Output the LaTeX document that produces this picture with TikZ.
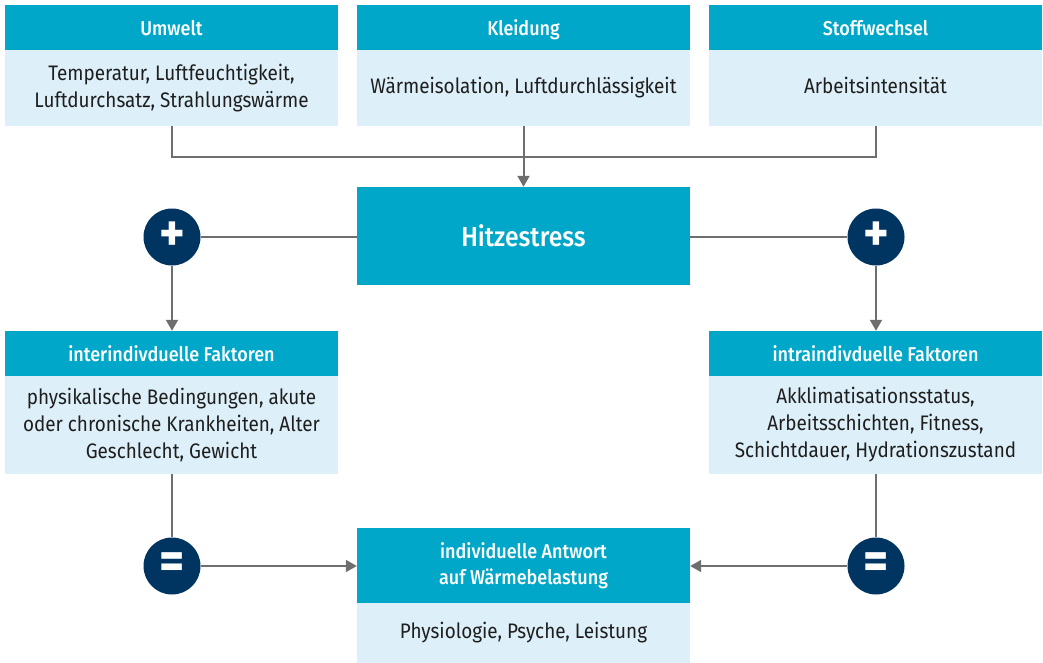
\documentclass[tikz,border=0pt]{standalone}
\usepackage{fontspec}
\setmainfont{Fira Sans}[FakeStretch=0.9]
\newfontfamily\medfont{Fira Sans Medium}[FakeStretch=0.9]
\usetikzlibrary{arrows.meta}
\definecolor{hcol}{HTML}{00A7C8}
\definecolor{bcol}{HTML}{DDF0F9}
\definecolor{ccol}{HTML}{003461}
\definecolor{lcol}{HTML}{6E6E6E}
\definecolor{tcol}{HTML}{1E1E1E}
\tikzset{
  head/.style={fill=hcol, text=white, minimum width=333pt, minimum height=45pt, inner sep=0pt, align=center,
    font=\medfont\fontsize{20}{26}\selectfont},
  onehead/.style={head, text depth=0pt},
  body/.style={fill=bcol, text=tcol, minimum width=333pt, inner sep=0pt, align=center,
    font=\fontsize{21}{27}\selectfont},
  opcircle/.style={circle, fill=ccol, text=white, minimum size=57pt, inner sep=0pt,
    font=\fontsize{54}{54}\selectfont\bfseries},
  conn/.style={draw=lcol, line width=2pt},
  arr/.style={conn, -{Triangle[length=11pt,width=12pt]}},
}
\begin{document}
\begin{tikzpicture}[x=1pt,y=-1pt]
\useasboundingbox (0,0) rectangle (1043,663);
% top row
\node[onehead] (uh) at (171.5,27.5) {Umwelt};
\node[body, minimum height=76pt] (ub) at (171.5,88) {Temperatur, Luftfeuchtigkeit,\\Luftdurchsatz, Strahlungswärme};
\node[onehead] (kh) at (523.5,27.5) {Kleidung};
\node[body, minimum height=76pt] (kb) at (523.5,88) {Wärmeisolation, Luftdurchlässigkeit};
\node[onehead] (sh) at (875.5,27.5) {Stoffwechsel};
\node[body, minimum height=76pt] (sb) at (875.5,88) {\strut Arbeitsintensität};
% Hitzestress
\node[onehead, minimum height=98pt, font=\medfont\fontsize{27.5}{30}\selectfont] (hz) at (523.5,236) {Hitzestress};
% factors
\node[onehead] (ih) at (171.5,353.5) {interindivduelle Faktoren};
\node[body, minimum height=98pt] (ib) at (171.5,425) {physikalische Bedingungen, akute\\oder chronische Krankheiten, Alter\\Geschlecht, Gewicht};
\node[onehead] (rh) at (875.5,353.5) {intraindivduelle Faktoren};
\node[body, minimum height=98pt] (rb) at (875.5,425) {Akklimatisationsstatus,\\Arbeitsschichten, Fitness,\\Schichtdauer, Hydrationszustand};
% response
\node[head, minimum height=75pt] (ah) at (523.5,565.5) {individuelle Antwort\\auf Wärmebelastung};
\node[body, minimum height=60pt] (ab) at (523.5,633) {Physiologie, Psyche, Leistung};
% circles
\node[opcircle] (pl) at (172,237) {+};
\node[opcircle] (pr) at (876,237) {+};
\node[opcircle] (el) at (172,566) {=};
\node[opcircle] (er) at (876,566) {=};
% connectors
\coordinate (j) at (523.5,157);
\draw[conn] (ub.south) |- (j) -| (sb.south);
\draw[arr] (kb.south) -- (hz.north);
\draw[conn] (pl.east) -- (hz.west |- pl.east);
\draw[conn] (pr.west) -- (hz.east |- pr.west);
\draw[arr] (pl.south) -- (ih.north -| pl.south);
\draw[arr] (pr.south) -- (rh.north -| pr.south);
\draw[conn] (ib.south -| el.north) -- (el.north);
\draw[conn] (rb.south -| er.north) -- (er.north);
\draw[arr] (el.east) -- (ah.west |- el.east);
\draw[arr] (er.west) -- (ah.east |- er.west);
\end{tikzpicture}
\end{document}
